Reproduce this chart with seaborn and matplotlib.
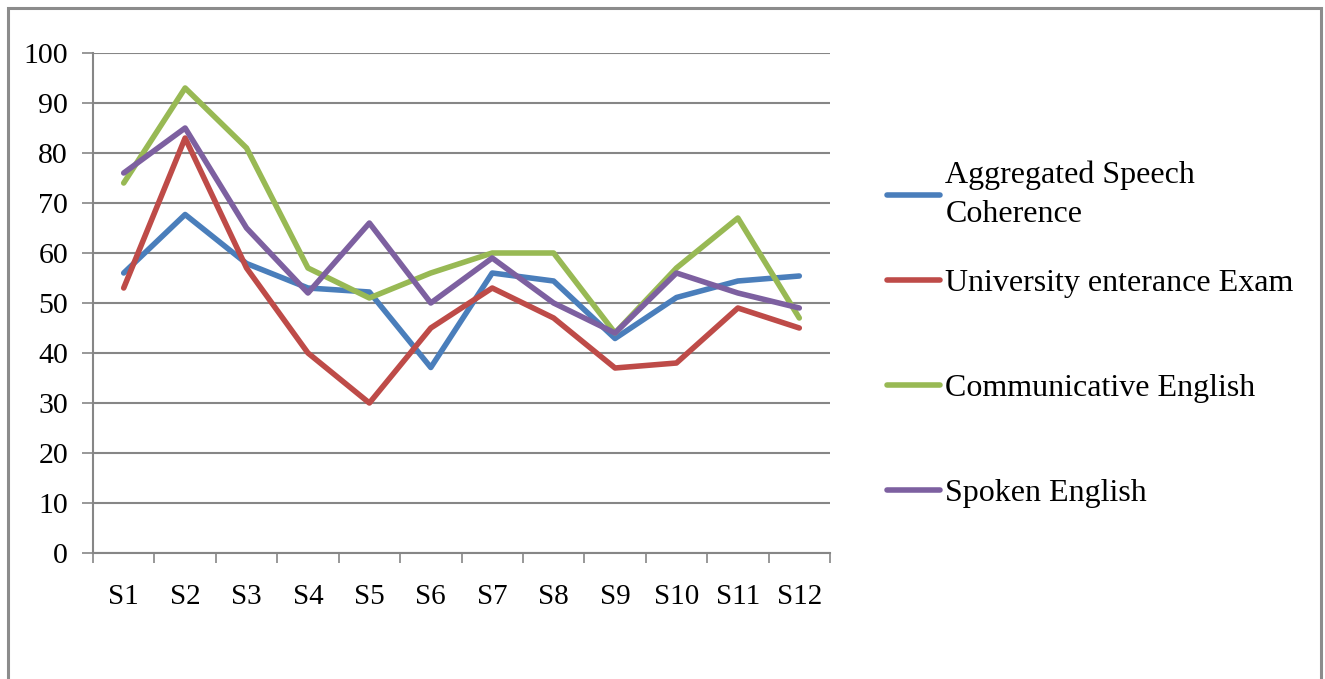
import matplotlib
matplotlib.use("Agg")
import matplotlib.pyplot as plt
from matplotlib.patches import Rectangle
import numpy as np
import pandas as pd
import seaborn as sns

# Scores per student
students = ["S1", "S2", "S3", "S4", "S5", "S6", "S7", "S8", "S9", "S10", "S11", "S12"]
speech_coherence = [56.0, 67.7, 57.9, 53.0, 52.2, 37.1, 56.0, 54.4, 42.9, 51.1, 54.4, 55.4]
entrance_exam = [53, 83, 57, 40, 30, 45, 53, 47, 37, 38, 49, 45]
communicative = [74, 93, 81, 57, 51, 56, 60, 60, 44, 57, 67, 47]
spoken = [76, 85, 65, 52, 66, 50, 59, 50, 44, 56, 52, 49]

series_names = ["Aggregated Speech Coherence", "University enterance Exam",
                "Communicative English", "Spoken English"]
legend_labels = ["Aggregated Speech\nCoherence", "University enterance Exam",
                 "Communicative English", "Spoken English"]
colors = ["#4A7EBB", "#BE4B48", "#98B954", "#7D60A0"]

frames = []
for name, vals in zip(series_names, [speech_coherence, entrance_exam, communicative, spoken]):
    frames.append(pd.DataFrame({"student": np.arange(len(students)), "score": vals, "series": name}))
df = pd.concat(frames, ignore_index=True)

sns.set_style("white")
plt.rcParams["font.family"] = ["Liberation Serif", "DejaVu Serif"]
plt.rcParams["lines.solid_joinstyle"] = "round"
plt.rcParams["lines.solid_capstyle"] = "round"
plt.rcParams["text.color"] = "black"
plt.rcParams["xtick.color"] = "black"
plt.rcParams["ytick.color"] = "black"

W, H = 1325, 679
fig = plt.figure(figsize=(W / 100, H / 100), dpi=100)
fig.patch.set_facecolor("white")

# outer chart frame
fig.add_artist(Rectangle((8 / W, -0.05), (1321 - 8) / W, 1.05 - 8 / H,
                         transform=fig.transFigure, fill=False,
                         edgecolor="#8C8C8C", linewidth=2.2))

ax = fig.add_axes([93 / W, (H - 553) / H, (830 - 93) / W, (553 - 53) / H])

sns.lineplot(data=df, x="student", y="score", hue="series", hue_order=series_names,
             palette=colors, linewidth=4.0, sort=False, legend=False, ax=ax)

grid_c = "#868686"
ax.set_ylim(0, 100)
ax.set_xlim(-0.5, len(students) - 0.5)
ax.set_yticks(np.arange(0, 101, 10))
ax.yaxis.grid(True, color=grid_c, linewidth=1.5)
ax.xaxis.grid(False)
ax.set_axisbelow(True)

ax.set_xticks(np.arange(-0.5, len(students), 1.0))
ax.set_xticklabels([])
ax.set_xticks(np.arange(len(students)), minor=True)
ax.set_xticklabels(students, minor=True)
ax.tick_params(axis="x", which="major", bottom=True, length=7, width=1.2,
               color=grid_c, direction="out")
ax.tick_params(axis="x", which="minor", bottom=True, length=0, pad=22,
               labelsize=21, labelcolor="black")
ax.tick_params(axis="y", left=True, length=8, width=1.2, color=grid_c, direction="out",
               pad=10, labelsize=21.5, labelcolor="black")

for side in ["top", "right"]:
    ax.spines[side].set_visible(False)
for side in ["left", "bottom"]:
    ax.spines[side].set_color(grid_c)
    ax.spines[side].set_linewidth(1.5)

ax.set_xlabel("")
ax.set_ylabel("")

# legend entries, one per series
lines = ax.get_lines()
entry_y = [195, 283, 388, 493]
for line, lab, yy in zip(lines, legend_labels, entry_y):
    leg = fig.legend([line], [lab], loc="center left", bbox_to_anchor=(887 / W, 1 - yy / H),
                     frameon=False, borderpad=0, borderaxespad=0, handlelength=1.65,
                     handletextpad=0.18, fontsize=23)
    for t in leg.get_texts():
        t.set_linespacing(1.45)
        t.set_color("black")

fig.savefig("out.png", dpi=100, facecolor="white")
